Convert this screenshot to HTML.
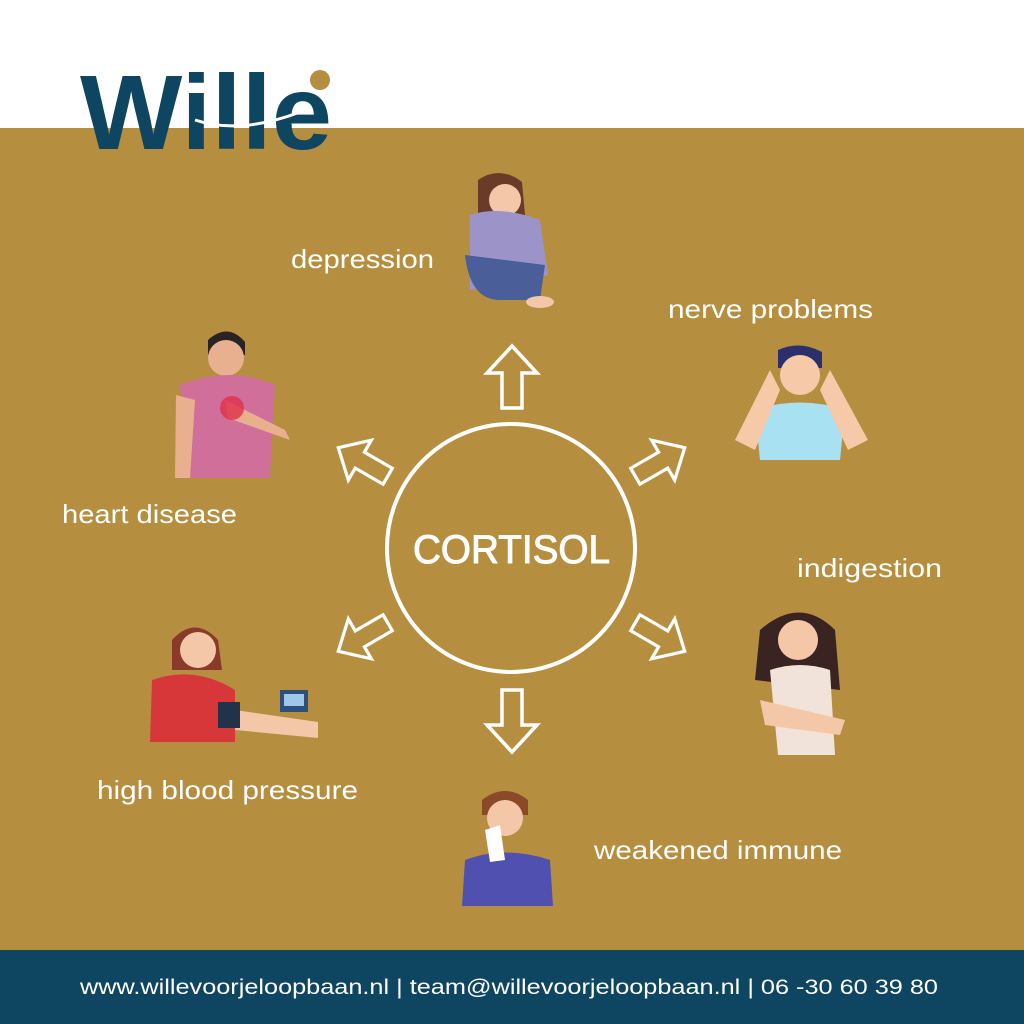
<!DOCTYPE html>
<html><head><meta charset="utf-8"><style>
html,body{margin:0;padding:0;width:1024px;height:1024px;overflow:hidden;background:#fff}
svg{display:block}
text{font-family:"Liberation Sans",sans-serif}
</style></head><body>
<svg width="1024" height="1024" viewBox="0 0 1024 1024" xmlns="http://www.w3.org/2000/svg">
<rect x="0" y="0" width="1024" height="128" fill="#fff"/>
<rect x="0" y="128" width="1024" height="822" fill="#B68E40"/>
<rect x="0" y="950" width="1024" height="74" fill="#0E4560"/>
<!-- logo -->
<text x="80" y="149" font-size="106" font-weight="bold" fill="#0E4560" textLength="252" lengthAdjust="spacingAndGlyphs">Wille</text>
<circle cx="320" cy="80" r="10" fill="#B68E40"/>
<path d="M195 120 Q240 135 300 112" stroke="#fff" stroke-width="3" fill="none"/>
<!-- circle -->
<circle cx="511" cy="548" r="124" fill="none" stroke="#fff" stroke-width="4"/>
<text x="413" y="563" font-size="40" fill="#fff" stroke="#fff" stroke-width="1" textLength="197" lengthAdjust="spacingAndGlyphs">CORTISOL</text>
<!-- arrows -->
<defs><path id="ar" d="M0 -31 L25 -4 L10 -4 L10 31 L-10 31 L-10 -4 L-25 -4 Z" fill="none" stroke="#fff" stroke-width="3.5" stroke-linejoin="miter"/></defs>
<use href="#ar" transform="translate(512,377)"/>
<use href="#ar" transform="translate(512,721) rotate(180)"/>
<use href="#ar" transform="translate(660,462) rotate(60) scale(0.92)"/>
<use href="#ar" transform="translate(660,637) rotate(120) scale(0.92)"/>
<use href="#ar" transform="translate(363,462) rotate(-60) scale(0.92)"/>
<use href="#ar" transform="translate(363,637) rotate(-120) scale(0.92)"/>
<!-- labels -->
<g fill="#fff" font-size="26">
<text x="291" y="268" textLength="143" lengthAdjust="spacingAndGlyphs">depression</text>
<text x="668" y="318" textLength="205" lengthAdjust="spacingAndGlyphs">nerve problems</text>
<text x="62" y="523" textLength="175" lengthAdjust="spacingAndGlyphs">heart disease</text>
<text x="797" y="577" textLength="145" lengthAdjust="spacingAndGlyphs">indigestion</text>
<text x="97" y="799" textLength="261" lengthAdjust="spacingAndGlyphs">high blood pressure</text>
<text x="594" y="859" textLength="248" lengthAdjust="spacingAndGlyphs">weakened immune</text>
</g>
<text x="80" y="994" font-size="21" fill="#fff" textLength="858" lengthAdjust="spacingAndGlyphs">www.willevoorjeloopbaan.nl | team@willevoorjeloopbaan.nl | 06 -30 60 39 80</text>
<!-- depression -->
<g>
<path d="M478 180 Q500 165 522 182 L525 215 L478 215 Z" fill="#6B3B2A"/>
<circle cx="505" cy="200" r="16" fill="#F4C7A8"/>
<path d="M470 215 Q500 205 540 220 L548 275 L470 290 Z" fill="#9C93C8"/>
<path d="M465 255 Q470 300 500 300 L540 300 L545 265 Z" fill="#4A5E9A"/>
<ellipse cx="540" cy="302" rx="14" ry="6" fill="#F4C7A8"/>
</g>
<!-- nerve problems -->
<g>
<path d="M778 350 Q800 340 822 352 L822 368 L778 368 Z" fill="#2B2F6B"/>
<circle cx="800" cy="375" r="20" fill="#F6C9A8"/>
<path d="M755 410 Q800 395 845 410 L840 460 L760 460 Z" fill="#A8E2F2"/>
<path d="M770 370 L735 440 L755 450 L780 390 Z" fill="#F6C9A8"/>
<path d="M830 370 L868 440 L848 450 L820 390 Z" fill="#F6C9A8"/>
</g>
<!-- heart disease -->
<g>
<path d="M208 340 Q228 322 245 342 L245 355 L208 355 Z" fill="#2A2323"/>
<circle cx="226" cy="358" r="18" fill="#E8B08E"/>
<path d="M180 385 Q230 365 275 385 L270 478 L190 478 Z" fill="#D0709A"/>
<path d="M176 395 L175 478 L190 478 L195 400 Z" fill="#E8B08E"/>
<path d="M225 400 L285 430 L290 440 L228 418 Z" fill="#E8B08E"/>
<circle cx="232" cy="408" r="12" fill="#E0304A" opacity="0.8"/>
</g>
<!-- indigestion -->
<g>
<path d="M760 630 Q800 595 835 630 L840 690 L755 680 Z" fill="#3A2422"/>
<circle cx="798" cy="640" r="20" fill="#F4C7A8"/>
<path d="M770 670 Q800 660 830 670 L835 755 L778 755 Z" fill="#F2E3DA"/>
<path d="M760 700 L845 720 L840 735 L765 725 Z" fill="#F4C7A8"/>
</g>
<!-- blood pressure -->
<g>
<path d="M172 640 Q195 615 218 640 L222 670 L172 670 Z" fill="#8A3A2A"/>
<circle cx="198" cy="650" r="18" fill="#F4C7A8"/>
<path d="M152 680 Q195 665 235 690 L235 742 L150 742 Z" fill="#D8373A"/>
<path d="M235 710 L318 722 L318 738 L235 730 Z" fill="#F4C7A8"/>
<rect x="218" y="702" width="22" height="26" fill="#22324A"/>
<rect x="280" y="690" width="28" height="22" fill="#2F4F7A"/>
<rect x="284" y="694" width="20" height="12" fill="#9FC8E8"/>
</g>
<!-- weakened immune -->
<g>
<path d="M482 800 Q505 782 528 800 L528 815 L482 815 Z" fill="#8A4A2A"/>
<circle cx="505" cy="818" r="18" fill="#F4C7A8"/>
<path d="M465 860 Q505 845 550 860 L553 906 L462 906 Z" fill="#5050B0"/>
<path d="M485 830 L500 825 L505 860 L490 862 Z" fill="#fff"/>
</g>
</svg>
</body></html>
